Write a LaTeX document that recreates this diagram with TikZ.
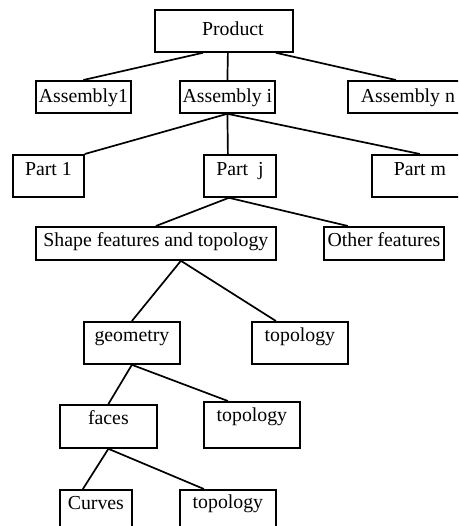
\documentclass[tikz,border=0pt]{standalone}
\usepackage{fontspec}
\setmainfont{Liberation Serif}
\usepackage{tikz}

\begin{document}
\begin{tikzpicture}[x=1pt, y=-1pt,
    box/.style={draw, line width=1.8pt, inner sep=0pt, anchor=north west,
      font=\fontsize{19.8}{22}\selectfont},
    link/.style={line width=1.7pt}]
  \clip[use as bounding box] (0,0) rectangle (458,526);

  \node[box, minimum width=138pt, text height=26pt, text depth=16pt] (product) at (154,9) {\hspace{18pt}Product};
  \node[box, minimum width=95pt, text height=22pt, text depth=10pt] (asm1) at (35,80) {Assembly1};
  \node[box, minimum width=95pt, text height=22pt, text depth=10pt] (asmi) at (179,80) {Assembly i};
  \node[box, minimum width=120pt, text height=22pt, text depth=10pt] (asmn) at (347,80) {Assembly n};

  \node[box, minimum width=71pt, text height=21pt, text depth=21pt] (part1) at (12,154) {Part 1};
  \node[box, minimum width=72pt, text height=21pt, text depth=21pt] (partj) at (203,154) {Part\ \ j};
  \node[box, minimum width=96pt, text height=21pt, text depth=21pt] (partm) at (371,154) {Part m};

  \node[box, minimum width=240pt, text height=20pt, text depth=13pt] (shape) at (35,226) {Shape features and topology};
  \node[box, minimum width=120pt, text height=20pt, text depth=13pt] (other) at (323,226) {Other features};

  \node[box, minimum width=96pt, text height=20pt, text depth=22pt] (geom) at (83,321) {geometry};
  \node[box, minimum width=96pt, text height=20pt, text depth=22pt] (topoA) at (251,321) {topology};

  \node[box, minimum width=97pt, text height=20pt, text depth=23pt] (faces) at (59,404) {faces};
  \node[box, minimum width=96pt, text height=20pt, text depth=26pt] (topoB) at (203,401) {topology};

  \node[box, minimum width=72pt, text height=20pt, text depth=22pt] (curves) at (59,489) {Curves};
  \node[box, minimum width=96pt, text height=19pt, text depth=23pt] (topoC) at (179,489) {topology};

  % tree links
  \draw[link] ([xshift=-21pt]product.south) -- (asm1.north);
  \draw[link] ([xshift=4pt]product.south) -- (asmi.north);
  \draw[link] ([xshift=52pt]product.south) -- ([xshift=-12pt]asmn.north);

  \draw[link] (asmi.south) -- (part1.north east);
  \draw[link] (asmi.south) -- ([xshift=-12pt]partj.north);
  \draw[link] (asmi.south) -- (partm.north);

  \draw[link] ([xshift=-11pt]partj.south) -- (shape.north);
  \draw[link] ([xshift=-11pt]partj.south) -- ([xshift=-36pt]other.north);

  \draw[link] ([xshift=25pt]shape.south) -- (geom.north);
  \draw[link] ([xshift=25pt]shape.south) -- ([xshift=-24pt]topoA.north);

  \draw[link] (geom.south) -- (faces.north);
  \draw[link] (geom.south) -- ([xshift=-24pt]topoB.north);

  \draw[link] (faces.south) -- ([xshift=-13pt]curves.north);
  \draw[link] (faces.south) -- ([xshift=-24pt]topoC.north);
\end{tikzpicture}
\end{document}
